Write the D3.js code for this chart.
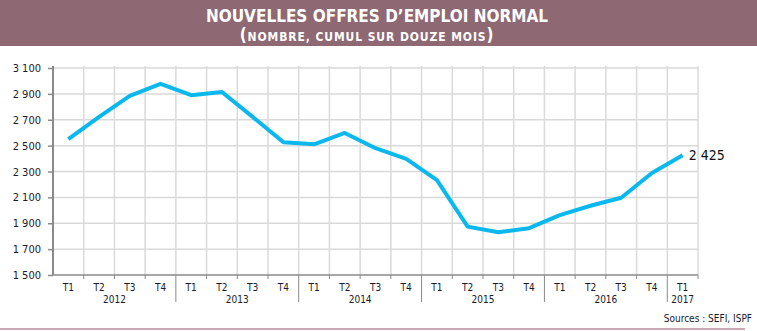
<!DOCTYPE html>
<html>
<head>
<meta charset="utf-8">
<script src="https://cdn.jsdelivr.net/npm/d3@7"></script>
<style>
  body { margin: 0; background: #fff; }
  svg { display: block; }
</style>
</head>
<body>
<svg id="chart" width="757" height="331"></svg>
<script>
const quarters = ["T1","T2","T3","T4","T1","T2","T3","T4","T1","T2","T3","T4","T1","T2","T3","T4","T1","T2","T3","T4","T1"]
const years = ["2012","2013","2014","2015","2016","2017"]
const offres = [2550,2722,2884,2978,2890,2915,2722,2527,2510,2598,2480,2398,2233,1874,1830,1862,1963,2035,2097,2288,2425]
const yTicks = [1500,1700,1900,2100,2300,2500,2700,2900,3100]

const W = 757, H = 331
const m = { left: 53, right: 698, top: 68, bottom: 275 }

const svg = d3.select("#chart")
const fmt = v => d3.format(",")(v).replace(",", " ")

// bandeau titre
svg.append("rect")
  .attr("x", 0).attr("y", 0)
  .attr("width", W).attr("height", 46)
  .attr("fill", "#8e6873")

svg.append("text")
  .attr("x", 377).attr("y", 22)
  .attr("text-anchor", "middle")
  .attr("fill", "#fff")
  .attr("font-family", "DejaVu Sans Condensed")
  .attr("font-weight", "bold")
  .attr("font-size", 17)
  .text("NOUVELLES OFFRES D\u2019EMPLOI NORMAL")

const sub = svg.append("text")
  .attr("x", 367).attr("y", 41)
  .attr("text-anchor", "middle")
  .attr("fill", "#fff")
  .attr("font-family", "DejaVu Sans Condensed")
  .attr("font-weight", "bold")
  .attr("letter-spacing", 0.9)
sub.append("tspan").attr("font-size", 17).text("(")
sub.append("tspan").attr("font-size", 12).text("NOMBRE, CUMUL SUR DOUZE MOIS")
sub.append("tspan").attr("font-size", 17).text(")")

const x = d3.scaleBand()
  .domain(d3.range(quarters.length))
  .range([m.left, m.right])
  .padding(0)

const y = d3.scaleLinear()
  .domain([1500, 3100])
  .range([m.bottom, m.top])

const g = svg.append("g")

// grille horizontale
g.selectAll(".hgrid")
  .data(yTicks.slice(1))
  .join("line")
  .attr("x1", m.left).attr("x2", m.right)
  .attr("y1", d => y(d)).attr("y2", d => y(d))
  .attr("stroke", "#d9d9d9")
  .attr("stroke-width", 1.5)

// grille verticale
const bounds = d3.range(1, quarters.length + 1).map(i => m.left + i * x.bandwidth())
g.selectAll(".vgrid")
  .data(bounds)
  .join("line")
  .attr("x1", d => d).attr("x2", d => d)
  .attr("y1", m.top - 2).attr("y2", m.bottom)
  .attr("stroke", "#dadada")
  .attr("stroke-width", 1.5)

// axe y
const yAxis = g.append("g")
  .attr("transform", `translate(${m.left},0)`)
  .call(d3.axisLeft(y).tickValues(yTicks).tickFormat(fmt).tickSize(5).tickPadding(7))
yAxis.select(".domain").attr("stroke", "#8a8a8a").attr("stroke-width", 2)
  .attr("d", `M0,${m.top - 2}V${m.bottom}`)
yAxis.selectAll(".tick line").attr("stroke", "#8a8a8a").attr("stroke-width", 1.5)
yAxis.selectAll(".tick text")
  .attr("fill", "#1a1a2a")
  .attr("font-family", "DejaVu Sans Condensed")
  .attr("font-size", 11)

// axe x
g.append("line")
  .attr("x1", m.left).attr("x2", m.right)
  .attr("y1", m.bottom).attr("y2", m.bottom)
  .attr("stroke", "#8a8a8a").attr("stroke-width", 1.5)

g.selectAll(".xtick")
  .data(bounds)
  .join("line")
  .attr("x1", d => d).attr("x2", d => d)
  .attr("y1", m.bottom)
  .attr("y2", (d, i) => ((i + 1) % 4 === 0 && i < quarters.length - 1) ? 302 : 279)
  .attr("stroke", "#8a8a8a")
  .attr("stroke-width", 1)

g.selectAll(".qlab")
  .data(quarters)
  .join("text")
  .attr("x", (d, i) => x(i) + x.bandwidth() / 2)
  .attr("y", 291)
  .attr("text-anchor", "middle")
  .attr("fill", "#1a1a2a")
  .attr("font-family", "DejaVu Sans Condensed")
  .attr("font-size", 10)
  .text(d => d)

g.selectAll(".ylab")
  .data(years)
  .join("text")
  .attr("x", (d, i) => {
    const first = i * 4
    const last = Math.min(first + 3, quarters.length - 1)
    return (x(first) + x(last) + x.bandwidth()) / 2
  })
  .attr("y", 303)
  .attr("text-anchor", "middle")
  .attr("fill", "#1a1a2a")
  .attr("font-family", "DejaVu Sans Condensed")
  .attr("font-size", 10)
  .text(d => d)

// courbe
const line = d3.line()
  .x((d, i) => x(i) + x.bandwidth() / 2)
  .y(d => y(d))

g.append("path")
  .datum(offres)
  .attr("d", line)
  .attr("fill", "none")
  .attr("stroke", "#0bb8ee")
  .attr("stroke-width", 4)
  .attr("stroke-linejoin", "round")

const last = offres.length - 1
g.append("text")
  .attr("x", x(last) + x.bandwidth() / 2 + 6)
  .attr("y", y(offres[last]) + 5)
  .attr("fill", "#111")
  .attr("font-family", "DejaVu Sans Condensed")
  .attr("font-size", 14)
  .text(fmt(offres[last]))

// sources
svg.append("text")
  .attr("x", 752).attr("y", 322)
  .attr("text-anchor", "end")
  .attr("fill", "#1a1a2a")
  .attr("font-family", "DejaVu Sans Condensed")
  .attr("font-size", 10)
  .text("Sources : SEFI, ISPF")

svg.append("line")
  .attr("x1", 0).attr("x2", 745)
  .attr("y1", 329).attr("y2", 329)
  .attr("stroke", "#c8a9b3")
  .attr("stroke-width", 2)
</script>
</body>
</html>
